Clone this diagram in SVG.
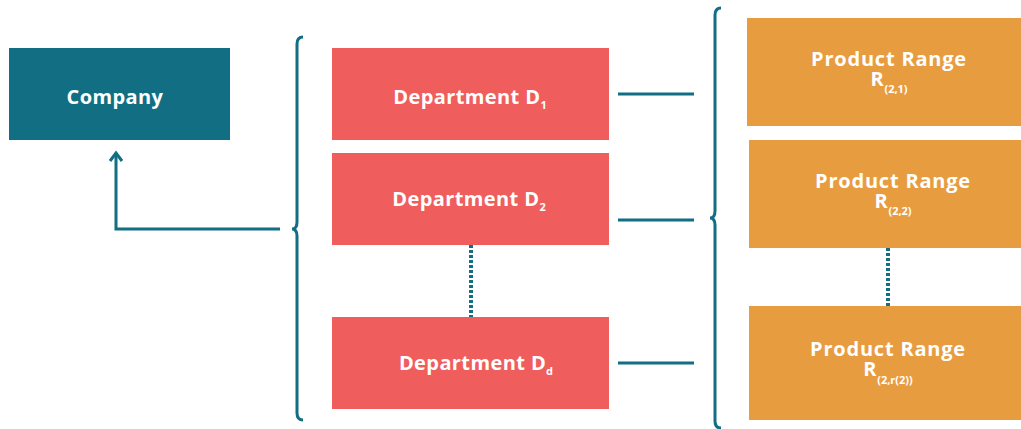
<svg xmlns="http://www.w3.org/2000/svg" width="1021" height="429" viewBox="0 0 1021 429">
<style>
.t{font-family:"Open Sans","Liberation Sans",sans-serif;font-weight:700;fill:#fff;text-anchor:middle;letter-spacing:0.4px}
.m{font-size:20px}
.w{letter-spacing:0.8px}
.s{font-size:11px;letter-spacing:0}
.ln{stroke:#126e82;stroke-width:3;fill:none}
.dot{stroke:#126e82;stroke-width:4;fill:none;stroke-dasharray:3 2}
.dep{fill:#ef5d5d}
.pr{fill:#e89c40}
</style>
<rect width="1021" height="429" fill="#fff"/>
<g id="connectors">
<path class="ln" d="M280,229 H116 V154"/>
<path class="ln" d="M110,161 L116,153 L122,161"/>
<path class="ln" d="M303,37 Q297,37 297,44 V222 Q297,229 292,229 Q297,229 297,236 V413 Q297,420 303,420"/>
<path class="ln" d="M721,8 Q715,8 715,15 V211 Q715,218 710,218 Q715,218 715,225 V421 Q715,428 721,428"/>
<path class="ln" d="M618,94 H694"/>
<path class="ln" d="M618,220 H694"/>
<path class="ln" d="M618,363 H694"/>
<path class="dot" d="M471,245 V317"/>
<path class="dot" d="M888,248 V306"/>
</g>
<g id="company">
<rect x="9" y="48" width="221" height="92" fill="#126e82"/>
<text class="t m" x="115" y="104">Company</text>
</g>
<g id="dept1">
<rect class="dep" x="332" y="48" width="277" height="92"/>
<text class="t m" x="470" y="104">Department D<tspan class="s" dy="5">1</tspan></text>
</g>
<g id="dept2">
<rect class="dep" x="332" y="153" width="277" height="92"/>
<text class="t m" x="469" y="206">Department D<tspan class="s" dy="5">2</tspan></text>
</g>
<g id="deptd">
<rect class="dep" x="332" y="317" width="277" height="92"/>
<text class="t m" x="476" y="370">Department D<tspan class="s" dy="5">d</tspan></text>
</g>
<g id="range1">
<rect class="pr" x="747" y="18" width="274" height="108"/>
<text class="t m w"><tspan x="889" y="66">Product Range</tspan><tspan x="889" y="86">R<tspan class="s" dy="7">(2,1)</tspan></tspan></text>
</g>
<g id="range2">
<rect class="pr" x="749" y="140" width="272" height="108"/>
<text class="t m w"><tspan x="893" y="188">Product Range</tspan><tspan x="893" y="208">R<tspan class="s" dy="7">(2,2)</tspan></tspan></text>
</g>
<g id="range3">
<rect class="pr" x="749" y="306" width="272" height="114"/>
<text class="t m w"><tspan x="888" y="356">Product Range</tspan><tspan x="888" y="376">R<tspan class="s" dy="8">(2,r(2))</tspan></tspan></text>
</g>
</svg>
